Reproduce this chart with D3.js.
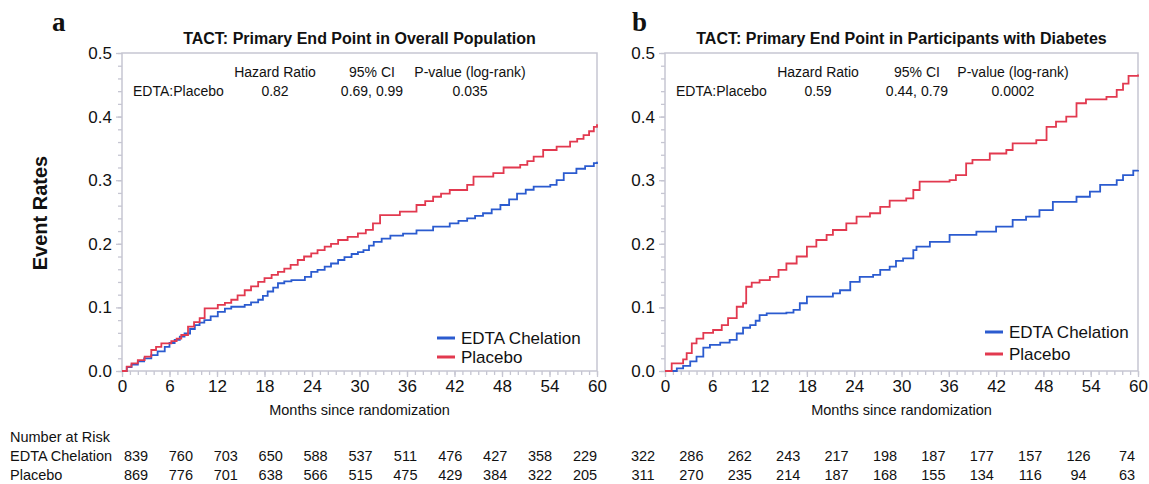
<!DOCTYPE html>
<html>
<head>
<meta charset="utf-8">
<script src="https://cdn.jsdelivr.net/npm/d3@7"></script>
<style>
  body { margin: 0; background: #fff; }
  text { font-family: "Liberation Sans", Arial, sans-serif; fill: #111; }
  .panelTag { font-family: "Liberation Serif", "DejaVu Serif", serif; font-weight: bold; font-size: 27px; }
  .grfTitle { font-weight: bold; font-size: 16px; }
  .frame { fill: none; stroke: #c6c6d2; stroke-width: 1.5; }
  .tick line { stroke: #c6c6d2; stroke-width: 1.3; }
  .domain { display: none; }
  .tick text { font-size: 17px; fill: #111; }
  .stats { font-size: 14px; }
  .legend { font-size: 17px; }
  .xlabel { font-size: 14.5px; }
  .risk { font-size: 14.5px; }
</style>
</head>
<body>
<div id="chart"></div>
<script>
// month ticks and number-at-risk columns
const monthTicks = [0, 6, 12, 18, 24, 30, 36, 42, 48, 54, 60];
const rateTicks = [0.0, 0.1, 0.2, 0.3, 0.4, 0.5];

const seriesNames = ["EDTA Chelation", "Placebo"];
const statHeads = ["Hazard Ratio", "95% CI", "P-value (log-rank)"];

// panel a : overall population  [month, event rate]
const aEdta = [[0, 0], [0.6, 0.006], [1.2, 0.01], [2.0, 0.015], [2.8, 0.02], [3.7, 0.025], [4.5, 0.031],
    [5.4, 0.038], [6.0, 0.044], [6.65, 0.049], [7.3, 0.054], [7.9, 0.059], [8.6, 0.066], [9.2, 0.072],
    [9.8, 0.076], [10.4, 0.080], [11.2, 0.086], [12.1, 0.093], [13.0, 0.098], [13.8, 0.101], [15.5, 0.104],
    [16.3, 0.108], [17.2, 0.112], [17.8, 0.118], [18.4, 0.125], [19.1, 0.131], [19.7, 0.138], [20.5, 0.141],
    [21.4, 0.143], [23.1, 0.148], [23.9, 0.156], [24.7, 0.159], [25.6, 0.164], [26.4, 0.169], [27.3, 0.1745],
    [28.1, 0.179], [29.0, 0.184], [29.8, 0.187], [30.5, 0.190], [31.2, 0.197], [31.8, 0.203], [32.8, 0.208],
    [33.9, 0.213], [35.5, 0.216], [37.2, 0.221], [39.3, 0.227], [41.4, 0.232], [42.5, 0.236], [43.6, 0.240],
    [44.6, 0.244], [45.6, 0.248], [46.7, 0.254], [47.8, 0.261], [48.9, 0.270], [49.9, 0.279], [51.0, 0.285],
    [52.0, 0.290], [54.1, 0.2925], [54.9, 0.300], [55.8, 0.311], [57.4, 0.318], [58.5, 0.322], [59.6, 0.327],
    [60, 0.329]];
const aPlacebo = [[0, 0], [0.6, 0.007], [1.2, 0.012], [2.0, 0.017], [2.86, 0.0225], [3.7, 0.033], [4.3, 0.038],
    [4.97, 0.0435], [6.23, 0.047], [6.9, 0.051], [7.49, 0.0566], [8.34, 0.0697], [9.1, 0.077], [9.81, 0.083],
    [10.44, 0.0985], [12.1, 0.104], [13.0, 0.107], [13.8, 0.112], [14.6, 0.119], [15.5, 0.127], [16.3, 0.133],
    [17.2, 0.140], [18.0, 0.146], [18.9, 0.151], [19.7, 0.156], [20.5, 0.161], [21.3, 0.167], [22.2, 0.1745],
    [23.0, 0.180], [23.9, 0.185], [24.7, 0.190], [25.6, 0.1955], [26.4, 0.200], [27.3, 0.206], [28.5, 0.211],
    [29.8, 0.2165], [30.8, 0.222], [31.7, 0.232], [32.6, 0.245], [35.1, 0.2505], [37.2, 0.261], [38.3, 0.267],
    [39.3, 0.274], [40.3, 0.279], [41.4, 0.2846], [43.6, 0.2925], [44.4, 0.3055], [46.9, 0.311], [48.2, 0.320],
    [50.3, 0.324], [51.2, 0.330], [52.0, 0.337], [53.2, 0.3475], [54.9, 0.3527], [56.6, 0.3605], [57.5, 0.365],
    [58.3, 0.371], [59.0, 0.377], [59.6, 0.384], [60, 0.388]];

// panel b : participants with diabetes  [month, event rate]
const bEdta = [[0, 0], [1.5, 0.004], [2.3, 0.008], [3.2, 0.015], [4.0, 0.0225], [4.86, 0.0367], [5.7, 0.041],
    [7.0, 0.0445], [8.2, 0.049], [9.1, 0.059], [9.9, 0.068], [10.8, 0.072], [11.5, 0.079], [12.0, 0.088],
    [12.9, 0.0907], [15.4, 0.0917], [16.3, 0.096], [17.1, 0.1065], [18.0, 0.117], [20.5, 0.117], [21.3, 0.122],
    [22.2, 0.127], [23.5, 0.140], [24.7, 0.148], [26.4, 0.151], [27.3, 0.159], [28.5, 0.164], [29.3, 0.173],
    [30.2, 0.177], [31.5, 0.190], [31.9, 0.1955], [33.6, 0.203], [36.1, 0.214], [39.5, 0.219], [42.0, 0.227],
    [44.1, 0.2375], [45.8, 0.2426], [47.5, 0.253], [49.2, 0.266], [52.2, 0.274], [53.9, 0.282], [55.2, 0.2925],
    [57.3, 0.300], [58.1, 0.308], [59.4, 0.315], [60, 0.316]];
const bPlacebo = [[0, 0], [0.85, 0.012], [2.3, 0.0184], [2.75, 0.028], [3.4, 0.0435], [4.0, 0.051],
    [4.86, 0.060], [6.1, 0.0645], [7.2, 0.072], [8.0, 0.083], [9.1, 0.101], [9.9, 0.1065], [10.3, 0.1325],
    [11.0, 0.139], [12.0, 0.143], [13.3, 0.148], [14.4, 0.159], [15.4, 0.169], [16.7, 0.180], [18.0, 0.1955],
    [19.2, 0.206], [20.5, 0.214], [21.3, 0.2217], [23.0, 0.232], [24.3, 0.2426], [26.0, 0.248], [27.3, 0.258],
    [28.5, 0.268], [30.6, 0.2715], [31.5, 0.2846], [32.3, 0.2977], [36.1, 0.300], [36.9, 0.308], [38.2, 0.3265],
    [39.0, 0.332], [41.2, 0.342], [43.3, 0.3475], [44.1, 0.358], [47.1, 0.363], [48.4, 0.384], [49.6, 0.392],
    [50.9, 0.400], [52.2, 0.421], [53.4, 0.427], [56.0, 0.431], [57.3, 0.442], [58.1, 0.452], [58.8, 0.464],
    [60, 0.466]];

// numbers at risk
const aRiskEdta = [839, 760, 703, 650, 588, 537, 511, 476, 427, 358, 229];
const aRiskPlacebo = [869, 776, 701, 638, 566, 515, 475, 429, 384, 322, 205];
const bRiskEdta = [322, 286, 262, 243, 217, 198, 187, 177, 157, 126, 74];
const bRiskPlacebo = [311, 270, 235, 214, 187, 168, 155, 134, 116, 94, 63];

// hazard ratio tables
const aStats = ["0.82", "0.69, 0.99", "0.035"];
const bStats = ["0.59", "0.44, 0.79", "0.0002"];

const colors = ["#2b5bcf", "#e2394f"];

var svgBase = d3.select("#chart").append("svg")
    .attr("width", 1149)
    .attr("height", 484);

// y label (shared)
svgBase.append("text")
    .attr("transform", "translate(47,213) rotate(-90)")
    .attr("text-anchor", "middle")
    .style("font-weight", "bold")
    .style("font-size", "20px")
    .text("Event Rates");

// risk table row labels
svgBase.append("text").attr("class", "risk").attr("x", 10).attr("y", 442).text("Number at Risk");
svgBase.append("text").attr("class", "risk").attr("x", 10).attr("y", 461).text("EDTA Chelation");
svgBase.append("text").attr("class", "risk").attr("x", 10).attr("y", 480).text("Placebo");

drawPanel({
    tag: "a", tagX: 52,
    title: "TACT: Primary End Point in Overall Population",
    left: 122, right: 597,
    series: [aEdta, aPlacebo],
    stats: aStats, statX: [275, 372, 470], rowLabelX: 133,
    legX: 437, legY: [338, 357],
    risk: [aRiskEdta, aRiskPlacebo], riskRange: [136, 585]
});

drawPanel({
    tag: "b", tagX: 632,
    title: "TACT: Primary End Point in Participants with Diabetes",
    left: 665, right: 1138,
    series: [bEdta, bPlacebo],
    stats: bStats, statX: [818, 917, 1013], rowLabelX: 676,
    legX: 985, legY: [332, 354],
    risk: [bRiskEdta, bRiskPlacebo], riskRange: [643, 1127]
});

function drawPanel(p) {
    var top = 53, bottom = 371;

    var x = d3.scaleLinear().domain([0, 60]).range([p.left, p.right]);
    var y = d3.scaleLinear().domain([0, 0.5]).range([bottom, top]);

    var g = svgBase.append("g");

    // panel letter + title
    g.append("text")
        .attr("class", "panelTag")
        .attr("x", p.tagX)
        .attr("y", 31)
        .text(p.tag);

    g.append("text")
        .attr("class", "grfTitle")
        .attr("x", (p.left + p.right) / 2)
        .attr("y", 44)
        .attr("text-anchor", "middle")
        .text(p.title);

    // minor ticks
    g.append("g")
        .attr("transform", "translate(" + p.left + ",0)")
        .call(d3.axisLeft(y).tickValues(d3.range(0, 0.501, 0.02)).tickSize(4).tickFormat(""));
    g.append("g")
        .attr("transform", "translate(0," + bottom + ")")
        .call(d3.axisBottom(x).tickValues(d3.range(0, 61, 1)).tickSize(4).tickFormat(""));

    // major ticks
    g.append("g")
        .attr("transform", "translate(" + p.left + ",0)")
        .call(d3.axisLeft(y).tickValues(rateTicks).tickSize(6).tickPadding(4).tickFormat(d3.format(".1f")));
    g.append("g")
        .attr("transform", "translate(0," + bottom + ")")
        .call(d3.axisBottom(x).tickValues(monthTicks).tickSize(6).tickPadding(3));

    // frame
    g.append("rect")
        .attr("class", "frame")
        .attr("x", p.left)
        .attr("y", top)
        .attr("width", p.right - p.left)
        .attr("height", bottom - top);

    g.append("text")
        .attr("class", "xlabel")
        .attr("x", (p.left + p.right) / 2)
        .attr("y", 415)
        .attr("text-anchor", "middle")
        .text("Months since randomization");

    // hazard ratio box
    statHeads.forEach((h, i) => {
        g.append("text").attr("class", "stats")
            .attr("x", p.statX[i]).attr("y", 77)
            .attr("text-anchor", "middle").text(h);
        g.append("text").attr("class", "stats")
            .attr("x", p.statX[i]).attr("y", 96)
            .attr("text-anchor", "middle").text(p.stats[i]);
    });
    g.append("text").attr("class", "stats")
        .attr("x", p.rowLabelX).attr("y", 96).text("EDTA:Placebo");

    // curves
    var line = d3.line()
        .curve(d3.curveStepAfter)
        .x(d => x(d[0]))
        .y(d => y(d[1]));

    p.series.forEach((s, i) => {
        g.append("path")
            .datum(s)
            .attr("fill", "none")
            .attr("stroke", colors[i])
            .attr("stroke-width", 1.8)
            .attr("d", line);
    });

    // legend
    seriesNames.forEach((n, i) => {
        g.append("line")
            .attr("x1", p.legX).attr("x2", p.legX + 18)
            .attr("y1", p.legY[i]).attr("y2", p.legY[i])
            .attr("stroke", colors[i])
            .attr("stroke-width", 3);
        g.append("text").attr("class", "legend")
            .attr("x", p.legX + 24).attr("y", p.legY[i] + 6)
            .text(n);
    });

    // numbers at risk
    var rx = d3.scaleLinear().domain([0, 60]).range(p.riskRange);
    p.risk.forEach((row, r) => {
        g.selectAll(null)
            .data(row)
            .enter()
            .append("text")
            .attr("class", "risk")
            .attr("x", (d, i) => rx(monthTicks[i]))
            .attr("y", 461 + r * 19)
            .attr("text-anchor", "middle")
            .text(d => d);
    });
}
</script>
</body>
</html>
